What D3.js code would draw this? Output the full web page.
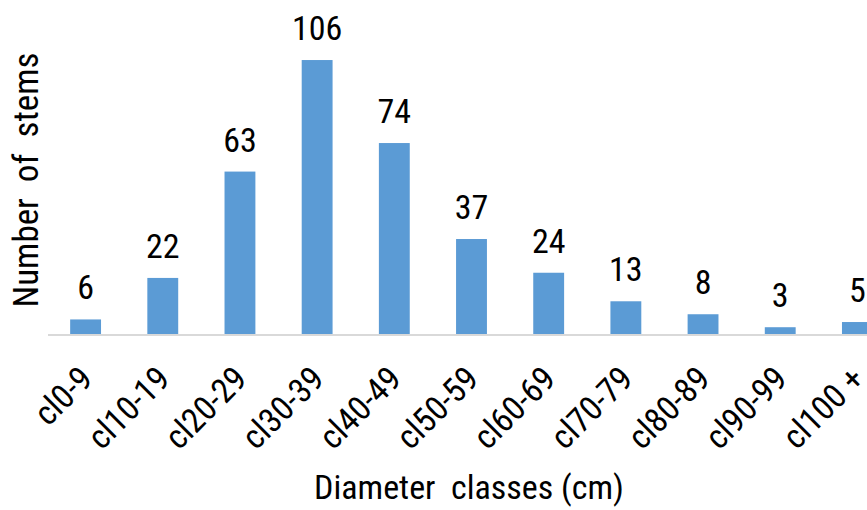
<!DOCTYPE html>
<html><head><meta charset="utf-8">
<script src="https://cdn.jsdelivr.net/npm/d3@7"></script>
<style>
html,body{margin:0;padding:0;background:#fff;}
svg text{font-family:"Liberation Sans Narrow","Arial Narrow","Roboto Condensed",Roboto,sans-serif;fill:#000;white-space:pre;}
</style></head>
<body>
<svg id="chart" width="867" height="510"></svg>
<script>
const categories = ["cl0-9","cl10-19","cl20-29","cl30-39","cl40-49","cl50-59","cl60-69","cl70-79","cl80-89","cl90-99","cl100 +"];
const stems = [6,22,63,106,74,37,24,13,8,3,5];
const xTitle = "Diameter  classes (cm)";
const yTitle = "Number  of  stems";

const svg = d3.select("#chart");
const baseY = 335;
const x = d3.scaleBand().domain(categories).range([47, 896]).paddingInner(0.6).paddingOuter(0.3);
const y = d3.scaleLinear().domain([0, 120]).range([baseY, baseY - 120 * 2.594]);

svg.append("g").selectAll("rect").data(stems).join("rect")
  .attr("x", (d, i) => x(categories[i]))
  .attr("width", x.bandwidth())
  .attr("y", d => y(d))
  .attr("height", d => y(0) - y(d))
  .attr("fill", "#5b9bd5");

svg.append("g").selectAll("text").data(stems).join("text")
  .attr("x", (d, i) => x(categories[i]) + x.bandwidth() / 2)
  .attr("y", d => y(d) - 20)
  .attr("text-anchor", "middle")
  .attr("font-size", 34)
  .text(d => d);

const xAxis = d3.axisBottom(x).tickSize(0).tickPadding(0);
const gx = svg.append("g").attr("transform", `translate(0,${baseY})`).call(xAxis);
gx.select(".domain").attr("stroke", "#d9d9d9").attr("stroke-width", 2).attr("d", "M48,0H896");
gx.selectAll(".tick text")
  .attr("font-size", 34)
  .attr("font-family", null)
  .attr("text-anchor", "end")
  .attr("dy", 0)
  .attr("y", 0)
  .attr("transform", "translate(9,46) rotate(-45)");

svg.append("text").attr("x", 469).attr("y", 499).attr("text-anchor", "middle")
  .attr("font-size", 34).text(xTitle);
svg.append("text").attr("transform", "translate(38,180) rotate(-90)").attr("text-anchor", "middle")
  .attr("font-size", 35).text(yTitle);
</script>
</body></html>
